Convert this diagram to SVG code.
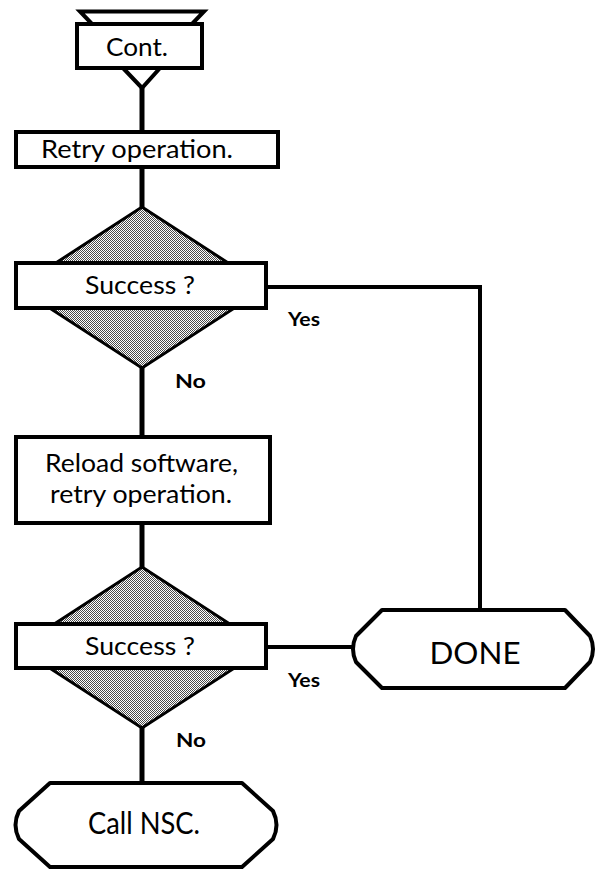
<svg xmlns="http://www.w3.org/2000/svg" width="597" height="870" viewBox="0 0 597 870">
  <defs>
    <!-- fine stipple used for the decision diamonds -->
    <pattern id="stipple" width="2" height="2" patternUnits="userSpaceOnUse">
      <rect width="2" height="2" fill="#ffffff"/>
      <rect x="0" y="0" width="1" height="1" fill="#4a4a4a"/>
      <rect x="1" y="1" width="1" height="1" fill="#4a4a4a"/>
    </pattern>
  </defs>
  <style>
    .box { fill: #ffffff; stroke: #000000; stroke-width: 4; }
    .diamond { fill: url(#stipple); stroke: #000000; stroke-width: 3; stroke-linejoin: miter; }
    .term { fill: #ffffff; stroke: #000000; stroke-width: 4; stroke-linejoin: round; }
    .wire { fill: none; stroke: #000000; stroke-width: 5; stroke-linejoin: miter; }
    .label { font-family: "Lato", "Liberation Sans", sans-serif; font-size: 25px; fill: #000000; text-anchor: middle; }
    .big { font-size: 30px; }
    .branch { font-family: "Lato", "Liberation Sans", sans-serif; font-size: 19px; font-weight: bold; fill: #000000; }
  </style>
  <rect width="597" height="870" fill="#ffffff"/>

  <!-- connectors -->
  <g id="connectors">
    <path class="wire" d="M142 88 V132"/>
    <path class="wire" d="M142 167 V207"/>
    <path class="wire" d="M142 368 V437"/>
    <path class="wire" d="M142 523 V567"/>
    <path class="wire" d="M142 728 V783"/>
    <path class="wire" d="M266 287 H480 V610" style="stroke-width:4"/>
    <path class="wire" d="M266 647 H352" style="stroke-width:4"/>
    <text class="branch" x="288" y="326" textLength="32" lengthAdjust="spacingAndGlyphs">Yes</text>
    <text class="branch" x="175" y="388" textLength="31" lengthAdjust="spacingAndGlyphs">No</text>
    <text class="branch" x="288" y="687" textLength="32" lengthAdjust="spacingAndGlyphs">Yes</text>
    <text class="branch" x="176" y="747" textLength="30" lengthAdjust="spacingAndGlyphs">No</text>
  </g>

  <!-- continuation entry -->
  <g id="cont">
    <path class="box" d="M80 11.5 H204 L192 24 H92 Z"/>
    <path class="box" d="M123 68 L142 88 L160 68 Z"/>
    <rect class="box" x="77" y="24" width="125" height="44"/>
    <text class="label" x="137" y="56" textLength="62" lengthAdjust="spacingAndGlyphs">Cont.</text>
  </g>

  <!-- first attempt -->
  <g id="retry">
    <rect class="box" x="16" y="132" width="262" height="35"/>
    <text class="label" x="137" y="158" textLength="192" lengthAdjust="spacingAndGlyphs">Retry operation.</text>
  </g>

  <g id="check1">
    <path class="diamond" d="M142 207 L266 287.5 L142 368 L18 287.5 Z"/>
    <rect class="box" x="16" y="263" width="250" height="45"/>
    <text class="label" x="140" y="294" textLength="110" lengthAdjust="spacingAndGlyphs">Success ?</text>
  </g>

  <!-- second attempt -->
  <g id="reload">
    <rect class="box" x="16" y="437" width="254" height="86"/>
    <text class="label" x="141.5" y="472" textLength="193" lengthAdjust="spacingAndGlyphs">Reload software,</text>
    <text class="label" x="141" y="503" textLength="182" lengthAdjust="spacingAndGlyphs">retry operation.</text>
  </g>

  <g id="check2">
    <path class="diamond" d="M142 567 L266 647.5 L142 728 L18 647.5 Z"/>
    <rect class="box" x="16" y="624" width="250" height="44"/>
    <text class="label" x="140" y="655" textLength="110" lengthAdjust="spacingAndGlyphs">Success ?</text>
  </g>

  <!-- terminals -->
  <g id="done">
    <path class="term" d="M382 610 H565 L590 636 Q596 649 590 662 L565 688 H382 L356 662 Q350 649 356 636 Z"/>
    <text class="label big" x="475" y="664" textLength="91" lengthAdjust="spacingAndGlyphs">DONE</text>
  </g>

  <g id="call-nsc">
    <path class="term" d="M50 783 H242 L273 811 Q280 825 273 839 L242 867 H50 L19 839 Q12 825 19 811 Z"/>
    <text class="label big" x="144" y="834" textLength="112" lengthAdjust="spacingAndGlyphs">Call NSC.</text>
  </g>
</svg>
